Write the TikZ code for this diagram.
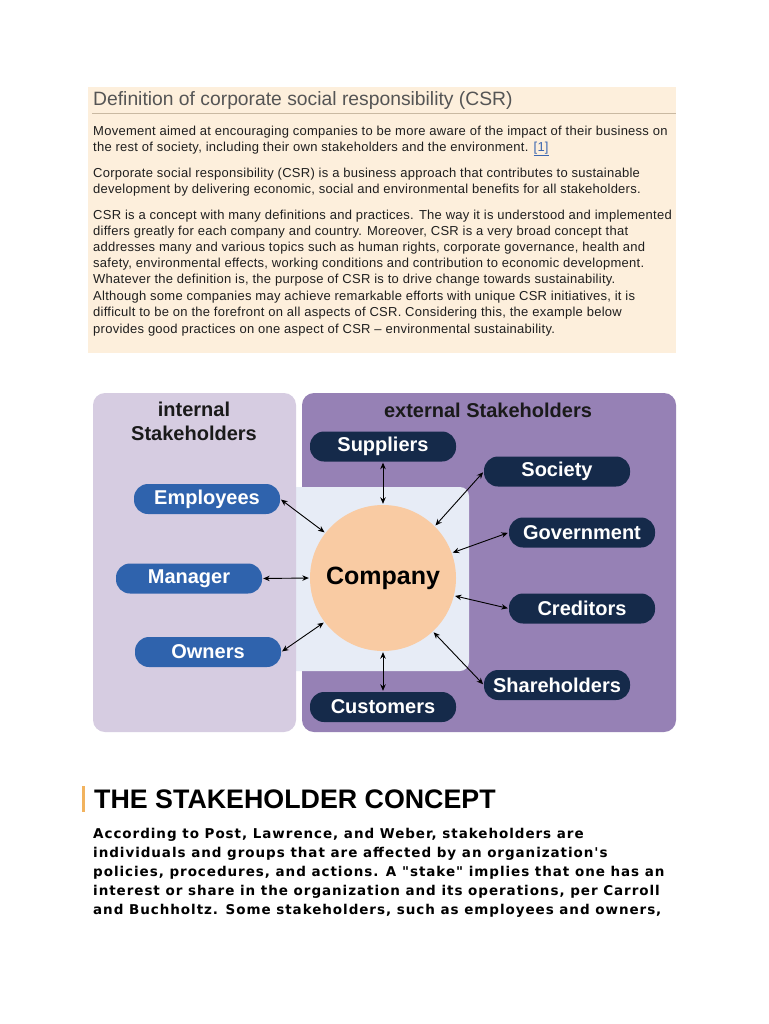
\documentclass[tikz,border=0pt]{standalone}
\usepackage{fontspec}
\setmainfont{Liberation Sans}
\newfontfamily\vfont[LetterSpace=7]{DejaVu Sans}
\newfontfamily\bodyfont[LetterSpace=2]{Liberation Sans}
\usetikzlibrary{arrows.meta}
\definecolor{peachbg}{HTML}{FDEFDC}
\definecolor{titlegray}{HTML}{555555}
\definecolor{rulecol}{HTML}{C9B9A2}
\definecolor{linkblue}{HTML}{3A66B0}
\definecolor{lav}{HTML}{D6CCE1}
\definecolor{purp}{HTML}{9681B5}
\definecolor{innerbg}{HTML}{E7ECF6}
\definecolor{circ}{HTML}{F9CBA3}
\definecolor{bluenode}{HTML}{2F63AD}
\definecolor{navy}{HTML}{152A4A}
\definecolor{hdrcol}{HTML}{1A1A1A}
\definecolor{barorange}{HTML}{F2B35E}
\tikzset{
  bodyline/.style={anchor=base west, inner sep=0pt, font=\bodyfont\fontsize{13}{15}\selectfont, text=black!88},
  botline/.style={anchor=base west, inner sep=0pt, font=\vfont\bfseries\fontsize{13.5}{16}\selectfont, text=black},
  pill/.style={rounded corners=14pt, minimum width=146pt, minimum height=30pt, inner sep=0pt, text=white, font=\bfseries\fontsize{20}{22}\selectfont},
  inpill/.style={pill, fill=bluenode},
  expill/.style={pill, fill=navy},
  hdr/.style={inner sep=0pt, text=hdrcol, font=\bfseries\fontsize{20}{24}\selectfont, align=center},
  arr/.style={{Stealth[length=6.5pt,width=5.5pt]}-{Stealth[length=6.5pt,width=5.5pt]}, line width=0.9pt, shorten <=1pt, shorten >=1pt}
}
\begin{document}
\begin{tikzpicture}[x=1pt,y=-1pt]
\useasboundingbox (0,0) rectangle (768,1024);
\fill[white] (0,0) rectangle (768,1024);
% top box
\fill[peachbg] (88,87) rectangle (676,353);
\node[anchor=base west, inner sep=0pt, text=titlegray, font=\fontsize{19.3}{21}\selectfont] (title) at (93,106) {Definition of corporate social responsibility (CSR)};
\draw[rulecol, line width=1pt] (92,113.5) -- (676,113.5);
\node[bodyline] (l1) at (93,135.5) {Movement aimed at encouraging companies to be more aware of the impact of their business on};
\node[bodyline] (l2) at (93,151.5) {the rest of society, including their own stakeholders and the environment. {\color{linkblue}\underline{[1]}}};
\node[bodyline] (l3) at (93,177.5) {Corporate social responsibility (CSR) is a business approach that contributes to sustainable};
\node[bodyline] (l4) at (93,193.5) {development by delivering economic, social and environmental benefits for all stakeholders.};
\node[bodyline] (l5) at (93,219.5) {CSR is a concept with many definitions and practices. The way it is understood and implemented};
\node[bodyline] (l6) at (93,235.5) {differs greatly for each company and country. Moreover, CSR is a very broad concept that};
\node[bodyline] (l7) at (93,251.5) {addresses many and various topics such as human rights, corporate governance, health and};
\node[bodyline] (l8) at (93,267.5) {safety, environmental effects, working conditions and contribution to economic development.};
\node[bodyline] (l9) at (93,283.5) {Whatever the definition is, the purpose of CSR is to drive change towards sustainability.};
\node[bodyline] (l10) at (93,300.5) {Although some companies may achieve remarkable efforts with unique CSR initiatives, it is};
\node[bodyline] (l11) at (93,316.5) {difficult to be on the forefront on all aspects of CSR. Considering this, the example below};
\node[bodyline] (l12) at (93,333.5) {provides good practices on one aspect of CSR – environmental sustainability.};
% diagram panels
\fill[purp, rounded corners=12pt] (302,393) rectangle (676,732);
\fill[innerbg, rounded corners=9pt] (280,487) rectangle (469,671);
\fill[lav, rounded corners=12pt] (93,393) rectangle (296,732);
\node[hdr] (inth) at (194,421) {internal\\Stakeholders};
\node[hdr] (exth) at (488,410) {external Stakeholders};
\node[circle, fill=circ, minimum size=146pt, inner sep=0pt, text=black, font=\bfseries\fontsize{25}{28}\selectfont] (comp) at (383,578) {Company};
\node[inpill] (emp) at (207,499) {Employees};
\node[inpill] (man) at (189,578.5) {Manager};
\node[inpill] (own) at (208,652) {Owners};
\node[expill] (sup) at (383,446.5) {Suppliers};
\node[expill] (soc) at (557,471.5) {Society};
\node[expill] (gov) at (582,532.5) {Government};
\node[expill] (cred) at (582,608.5) {Creditors};
\node[expill] (sh) at (557,685) {Shareholders};
\node[expill] (cust) at (383,707) {Customers};
\draw[arr] (emp.east) -- (comp.142);
\draw[arr] (man.east) -- (comp.180);
\draw[arr] (own.east) -- (comp.217);
\draw[arr] (sup.south) -- (comp.north);
\draw[arr] (soc.west) -- (comp.45);
\draw[arr] (gov.west) -- (comp.20);
\draw[arr] (cred.west) -- (comp.346);
\draw[arr] (sh.west) -- (comp.313);
\draw[arr] (cust.north) -- (comp.south);
% bottom section
\fill[barorange] (82,786) rectangle (85,812);
\node[anchor=base west, inner sep=0pt, text=black, font=\bfseries\fontsize{26.8}{28}\selectfont] (head) at (94,808.5) {THE STAKEHOLDER CONCEPT};
\node[botline] (b1) at (93,838) {According to Post, Lawrence, and Weber, stakeholders are};
\node[botline] (b2) at (93,857) {individuals and groups that are affected by an organization's};
\node[botline] (b3) at (93,876) {policies, procedures, and actions. A "stake" implies that one has an};
\node[botline] (b4) at (93,895) {interest or share in the organization and its operations, per Carroll};
\node[botline] (b5) at (93,914) {and Buchholtz. Some stakeholders, such as employees and owners,};
\end{tikzpicture}
\end{document}
